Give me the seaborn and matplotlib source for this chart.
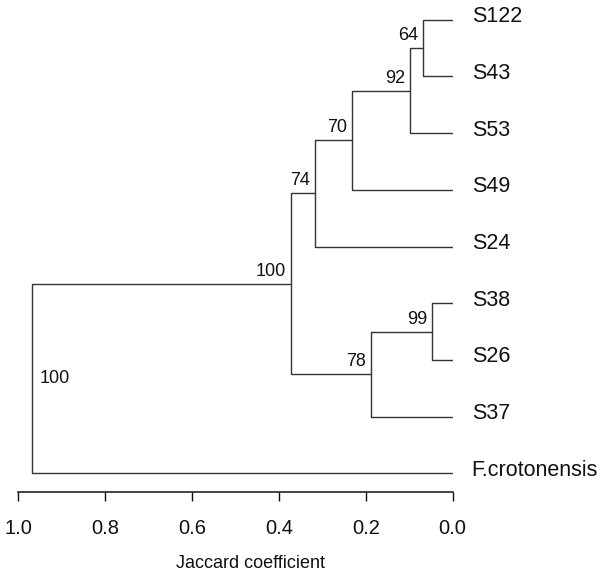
import matplotlib
matplotlib.use("Agg")
import matplotlib.pyplot as plt
import pandas as pd
import seaborn as sns

# Dendrogram data (leaves top to bottom, merges refer to leaves 0-8 and nodes 9+)
leaf_labels = ["S122", "S43", "S53", "S49", "S24", "S38", "S26", "S37", "F.crotonensis"]
merges = [(0, 1), (9, 2), (10, 3), (11, 4), (5, 6), (13, 7), (12, 14), (15, 8)]
heights = [0.068, 0.098, 0.231, 0.317, 0.047, 0.188, 0.372, 0.968]
bootstrap = [64, 92, 70, 74, 99, 78, 100, 100]
x_ticks = [1.0, 0.8, 0.6, 0.4, 0.2, 0.0]

sns.set_style("ticks")
plt.rcParams["font.family"] = ["Liberation Sans", "DejaVu Sans"]

# node coordinates
pos_x = [0.0] * len(leaf_labels)
pos_y = [float(i) for i in range(len(leaf_labels))]
rows = []
for k, (a, b) in enumerate(merges):
    h = heights[k]
    rows += [
        {"node": k, "x": pos_x[a], "y": pos_y[a]},
        {"node": k, "x": h, "y": pos_y[a]},
        {"node": k, "x": h, "y": pos_y[b]},
        {"node": k, "x": pos_x[b], "y": pos_y[b]},
    ]
    pos_x.append(h)
    pos_y.append((pos_y[a] + pos_y[b]) / 2)
seg = pd.DataFrame(rows)

fig = plt.figure(figsize=(6.09, 5.76), dpi=100)
ax = fig.add_axes([0.030, 0.1453, 0.7133, 0.846])

sns.lineplot(data=seg, x="x", y="y", units="node", estimator=None, sort=False,
             color="#333333", lw=1.0, legend=False, ax=ax)

n = len(leaf_labels)
ax.set_xlim(1.0, 0.0)
ax.set_ylim(n - 1 + 0.335, -0.26)

# leaf labels
for i, lab in enumerate(leaf_labels):
    ax.annotate(lab, (0.0, i), xytext=(19, 3), textcoords="offset pixels",
                ha="left", va="center", fontsize=15.5, color="#111111",
                annotation_clip=False)

# bootstrap values
for k in range(len(merges)):
    nx, ny = pos_x[n + k], pos_y[n + k]
    if k == len(merges) - 1:
        ax.annotate(str(bootstrap[k]), (nx, ny), xytext=(7, 0),
                    textcoords="offset pixels", ha="left", va="center",
                    fontsize=13, color="#111111")
    else:
        ax.annotate(str(bootstrap[k]), (nx, ny), xytext=(-5, 4),
                    textcoords="offset pixels", ha="right", va="bottom",
                    fontsize=13, color="#111111")

sns.despine(ax=ax, left=True, top=True, right=True)
ax.spines["bottom"].set_bounds(0.0, 1.0)
ax.spines["bottom"].set_linewidth(1.1)
ax.spines["bottom"].set_color("#111111")
ax.set_yticks([])
ax.set_xticks(x_ticks)
ax.set_xticklabels([f"{t:.1f}" for t in x_ticks])
ax.tick_params(axis="x", direction="out", length=6.5, width=1.0, pad=13,
               labelsize=14.5, colors="#111111")
ax.set_ylabel("")
ax.set_xlabel("Jaccard coefficient", fontsize=13, color="#111111")
ax.xaxis.set_label_coords(0.534, -0.147)
ax.xaxis.label.set_va("center")

fig.savefig("out.png", dpi=100)
